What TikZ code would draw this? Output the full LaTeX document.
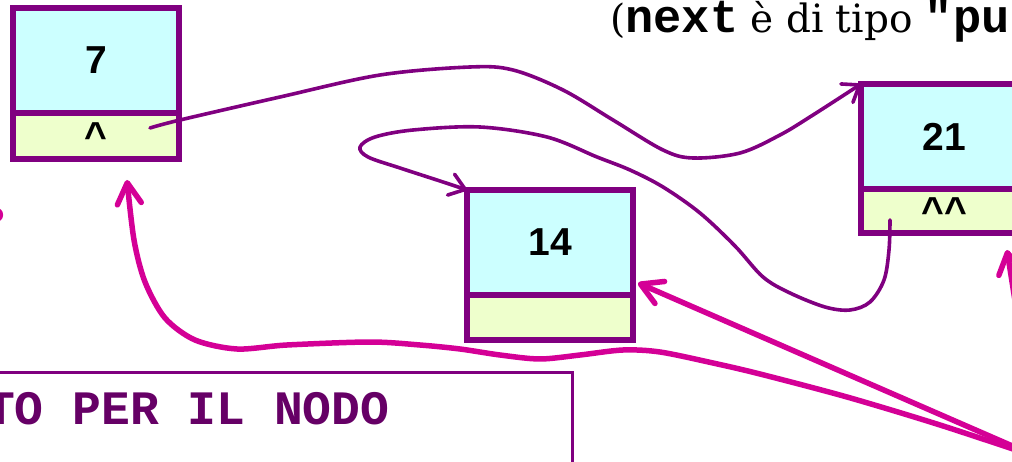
\documentclass[tikz,border=0pt]{standalone}
\usepackage{fontspec}
\setmainfont{DejaVu Serif}
\newfontfamily\numfont{Liberation Sans}
\newfontfamily\codefont{Liberation Mono}
\usetikzlibrary{arrows.meta,calc}

\definecolor{purp}{RGB}{128,0,128}
\definecolor{darkpurp}{RGB}{102,0,102}
\definecolor{cyanf}{RGB}{204,255,255}
\definecolor{yelf}{RGB}{238,255,204}
\definecolor{pinkc}{RGB}{212,0,150}

\newcommand{\codet}[1]{{\codefont\bfseries\fontsize{47pt}{50pt}\selectfont #1}}

\tikzset{
  cell/.style={draw=purp, line width=6pt, minimum width=166pt, inner sep=0pt,
    outer sep=0pt, font=\numfont\bfseries\fontsize{39pt}{41pt}\selectfont},
  valbox/.style={cell, fill=cyanf, minimum height=105pt},
  ptrbox/.style={cell, fill=yelf, minimum height=46pt},
  link/.style={draw=purp, line width=3.6pt, line cap=round, line join=round,
    -{Straight Barb[length=15pt,width=22pt,round]}},
  pinkarrow/.style={draw=pinkc, line width=5.5pt, line cap=round, line join=round,
    -{Straight Barb[length=21pt,width=24pt,round]}},
  codebox/.style={draw=purp, line width=3pt, fill=white, inner sep=0pt, outer sep=0pt},
}

\begin{document}
\begin{tikzpicture}[x=1pt,y=-1pt]
\useasboundingbox (0,0) rectangle (1012,462);
\clip (0,0) rectangle (1012,462);

% heading line
\node[anchor=base west, inner sep=0pt, font=\fontsize{39pt}{44pt}\selectfont] (title)
  at (610,33) {(\codet{next} è di tipo \codet{"pu}};

% list nodes: value field over pointer field
\node[valbox] (v7) at (96,60.5) {7};
\node[ptrbox] (p7) at (96,136) {\textasciicircum};

\node[valbox] (v14) at (550,242.5) {14};
\node[ptrbox, minimum height=45pt] (p14) at (550,317.5) {};

\node[valbox] (v21) at (944,136.5) {21};
\node[ptrbox, minimum height=44pt] (p21) at (944,211) {\textasciicircum\textasciicircum};

% code box at the bottom
\node[codebox, minimum width=620pt, minimum height=140pt, anchor=north east] (code) at (572,372) {};
\node[anchor=base west, inner sep=0pt, text=darkpurp,
  font=\codefont\bfseries\fontsize{48pt}{50pt}\selectfont] (codetxt) at (-14,424) {TO PER IL NODO};

% question mark at the left margin
\node[inner sep=0pt, text=pinkc, font=\numfont\bfseries\fontsize{40pt}{40pt}\selectfont] (qm) at (-6,222) {?};

% pointer ends
\coordinate (s7) at ($(p7.center)+(54,-8)$);
\coordinate (s21) at ($(p21.center)+(-54,9)$);
\coordinate (src) at (1040,458);
\coordinate (srcC) at (1022,345);

% next of 7 -> 21
\draw[link] plot[smooth, tension=0.55] coordinates {(s7) (180,120) (280,97) (380,75) (470,67)
  (513,70) (563,90) (613,120) (663,150) (693,158) (740,153) (780,135) (813,115) (v21.north west)};

% next of 21 -> 14
\draw[link] plot[smooth, tension=0.55] coordinates {(s21) (889,250) (884,280) (870,302) (850,310)
  (825,307) (790,293) (763,277) (735,246) (700,213) (663,187) (630,170) (597,157) (547,137)
  (480,127) (413,130) (375,137) (360,147) (368,157) (400,168) (440,181) (v14.north west)};

% pink pointers
\draw[pinkarrow] (src) -- ($(v14.south east)+(5,-12)$);
\draw[pinkarrow] plot[smooth, tension=0.5] coordinates {(src) (940,425) (847,397) (760,374)
  (713,363) (660,352) (623,350) (580,355) (540,359) (500,355) (460,349) (420,345) (370,342)
  (287,345) (237,349) (195,340) (165,318) (145,282) (134,240) ($(p7.south)+(31,21)$)};
\draw[pinkarrow] (srcC) -- ($(p21.south)+(63,17)$);
\end{tikzpicture}
\end{document}
